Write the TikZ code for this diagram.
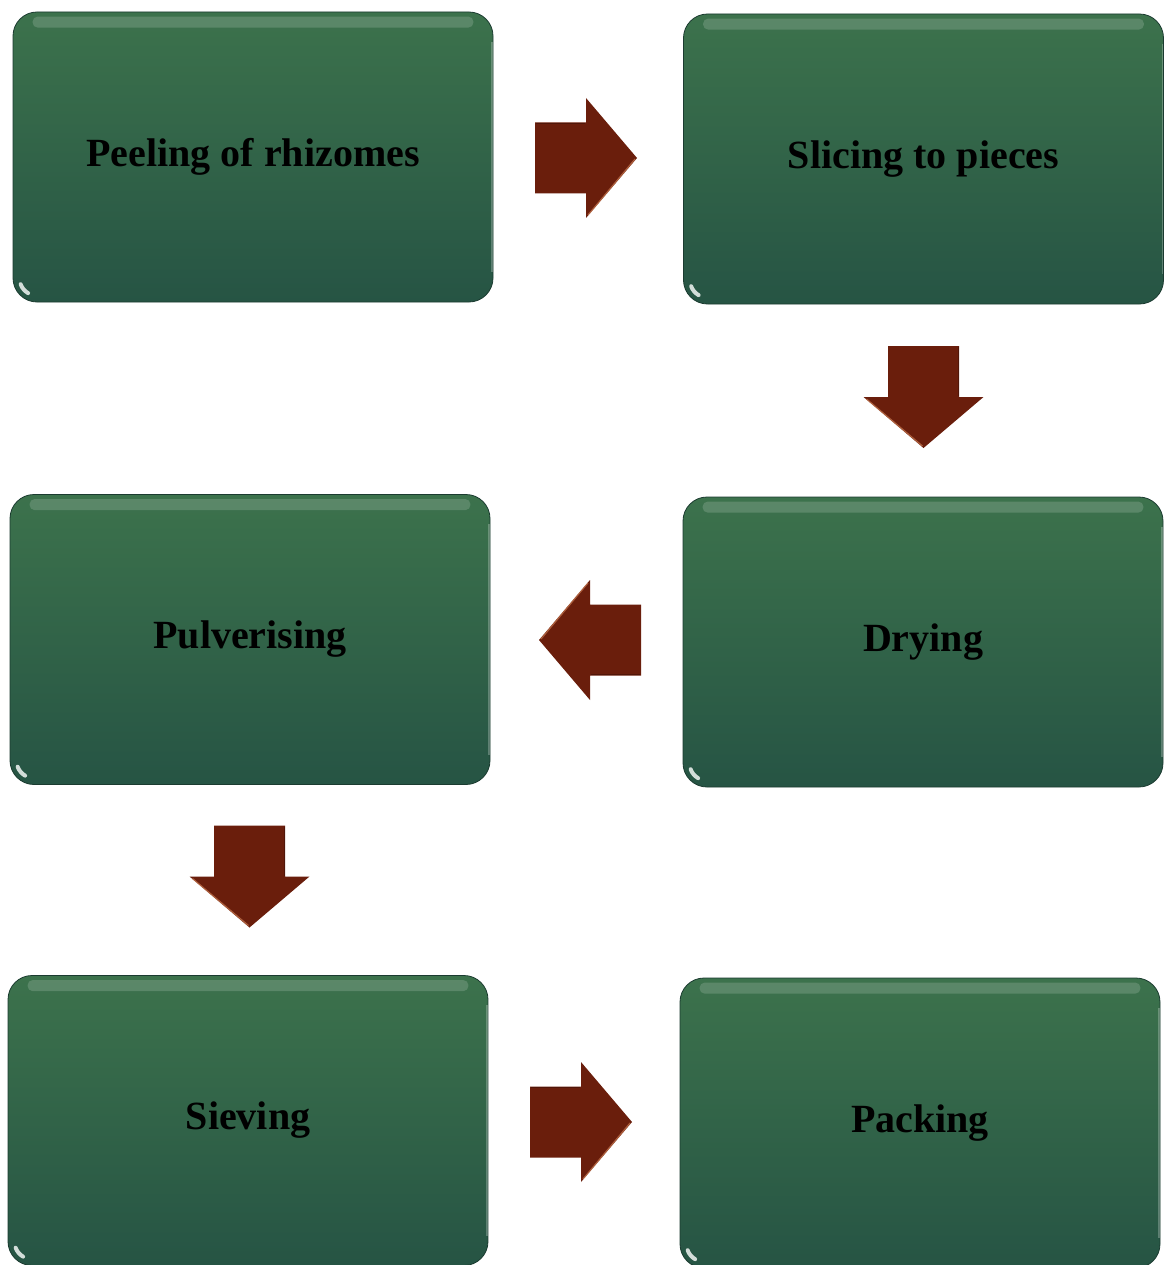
\documentclass[tikz,border=0pt]{standalone}
\usepackage{fontspec}
\setmainfont{Liberation Serif}
\usetikzlibrary{calc}
\definecolor{boxtop}{RGB}{60,114,76}
\definecolor{boxbot}{RGB}{38,84,68}
\definecolor{arr}{RGB}{106,30,12}
\definecolor{arrhi}{RGB}{200,120,80}
\tikzset{
  stepbox/.style={rounded corners=24pt, minimum width=480pt, minimum height=290pt,
    top color=boxtop, bottom color=boxbot, draw=boxbot!70!black, line width=0.8pt,
    font=\bfseries\fontsize{40}{46}\selectfont, text=black, inner sep=0pt},
  barrow/.pic={
    \fill[arr] (-51,-35.5) -- (0,-35.5) -- (0,-60) -- (51,0) -- (0,60) -- (0,35.5) -- (-51,35.5) -- cycle;
    \draw[arrhi, line width=1.2pt, opacity=0.7] (2,57) -- (49,1);
    \draw[arr!60!black, line width=1pt, opacity=0.6] (-50,-34.5) -- (-1,-34.5);
  }
}
\newcommand{\gloss}[1]{%
  \fill[white,opacity=0.16,rounded corners=5pt] ($(#1.north west)+(20,5)$) rectangle ($(#1.north east)+(-20,16)$);
  \draw[white,opacity=0.8,line width=4pt,line cap=round] ($(#1.south west)+(24,-24)$) ++(120:17) arc[start angle=120,end angle=160,radius=17];
  \draw[white,opacity=0.25,line width=1.5pt] ($(#1.north east)+(-1.5,30)$) -- ($(#1.south east)+(-1.5,-30)$);
}
\begin{document}
\begin{tikzpicture}[x=1pt,y=-1pt]
\useasboundingbox[fill=white] (0,0) rectangle (1171,1265);
\node[stepbox] (peel) at (253,157) {Peeling of rhizomes};
\node[stepbox] (slice) at (923.5,159) {Slicing to pieces};
\node[stepbox] (pulv) at (250,639.5) {Pulverising};
\node[stepbox] (dry) at (923,642) {Drying};
\node[stepbox] (sieve) at (248,1120.5) {Sieving};
\node[stepbox] (pack) at (920,1123) {Packing};
\foreach \n in {peel,slice,pulv,dry,sieve,pack}{\gloss{\n}}
% block arrows between steps
\pic at (586,158) {barrow};
\pic[rotate=-90] at (923.5,397) {barrow};
\pic[rotate=180] at (590,640) {barrow};
\pic[rotate=-90] at (249.5,876.5) {barrow};
\pic at (581,1122) {barrow};
\end{tikzpicture}
\end{document}
